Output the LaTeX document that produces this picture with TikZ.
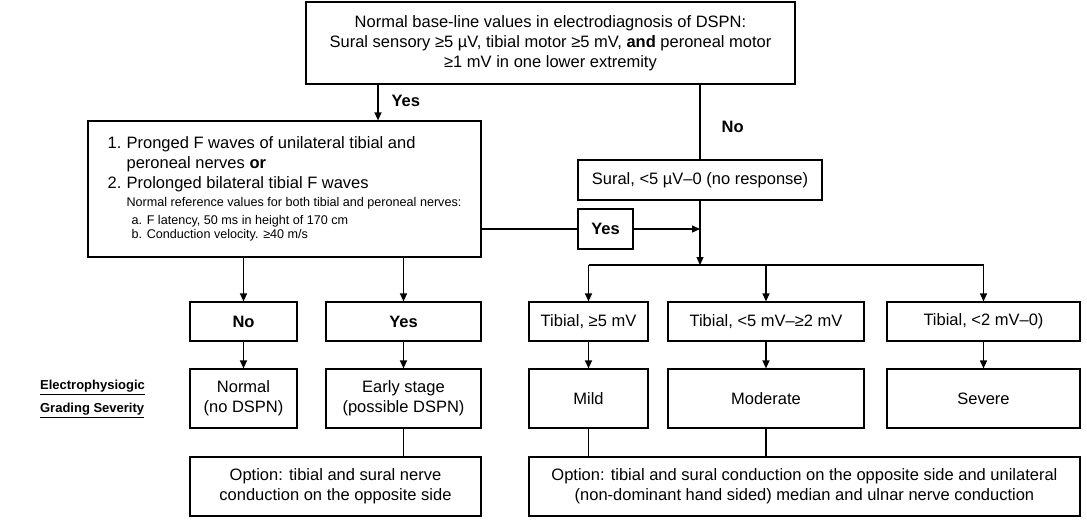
\documentclass[tikz,border=0pt]{standalone}
\usepackage{fontspec}
\setmainfont{Liberation Sans}
\usetikzlibrary{arrows.meta}
\newcommand{\smallfnt}{\fontsize{12.6}{15}\selectfont}
\tikzset{
  box/.style={draw, line width=1.2pt, inner sep=0pt, align=center,
    font=\fontsize{16.5}{20}\selectfont},
  lbl/.style={inner sep=0pt, font=\fontsize{16.5}{20}\selectfont\bfseries},
  >={Triangle[length=8pt,width=7pt]}
}
\begin{document}
\begin{tikzpicture}[x=1pt,y=-1pt,line width=1.2pt]
  \useasboundingbox (0,0) rectangle (1087,522);
  % top of the chart
  \node[box, minimum width=489pt, minimum height=82pt] (base) at (550.5,43)
    {Normal base-line values in electrodiagnosis of DSPN:\\
     Sural sensory ≥5 µV, tibial motor ≥5 mV, \textbf{and} peroneal motor\\
     ≥1 mV in one lower extremity};
  \node[box, align=left, minimum width=393pt, minimum height=136pt] (fwave) at (284.5,189)
    {\makebox[19pt][l]{1.}Pronged F waves of unilateral tibial and\\
     \hspace*{19pt}peroneal nerves \textbf{or}\\
     \makebox[19pt][l]{2.}Prolonged bilateral tibial F waves\\[-2pt]
     {\smallfnt\hspace*{19pt}Normal reference values for both tibial and peroneal nerves:\hspace*{14pt}}\\[-2pt]
     {\smallfnt\hspace*{24pt}a. F latency, 50 ms in height of 170 cm}\\[-6pt]
     {\smallfnt\hspace*{24pt}b. Conduction velocity. ≥40 m/s}};
  \node[box, minimum width=244pt, minimum height=40pt] (sural) at (700,180)
    {Sural, <5 µV–0 (no response)};
  \node[box, minimum width=55pt, minimum height=40pt] (yesmid) at (605.5,229)
    {\textbf{Yes}};
  % second row
  \node[box, minimum width=107pt, minimum height=39pt] (no) at (243.5,321.5) {\textbf{No}};
  \node[box, minimum width=155pt, minimum height=39pt] (yes) at (403.5,321.5) {\textbf{Yes}};
  \node[box, minimum width=119pt, minimum height=39pt] (tiba) at (588.5,321.5) {Tibial, ≥5 mV};
  \node[box, minimum width=196pt, minimum height=39pt] (tibb) at (766,321.5) {Tibial, <5 mV–≥2 mV};
  \node[box, minimum width=193pt, minimum height=39pt] (tibc) at (983.5,321.5) {Tibial, <2 mV–0)};
  % grading row
  \node[box, minimum width=107pt, minimum height=59pt] (normal) at (243.5,398.5) {Normal\\(no DSPN)};
  \node[box, minimum width=155pt, minimum height=59pt] (early) at (403.5,398.5) {Early stage\\(possible DSPN)};
  \node[box, minimum width=119pt, minimum height=59pt] (mild) at (588.5,398.5) {Mild};
  \node[box, minimum width=196pt, minimum height=59pt] (moderate) at (766,398.5) {Moderate};
  \node[box, minimum width=193pt, minimum height=59pt] (severe) at (983.5,398.5) {Severe};
  \node[inner sep=0pt, align=left, font=\fontsize{13}{23}\selectfont\bfseries] (grading) at (92.5,399)
    {\underline{Electrophysiogic}\\\underline{Grading Severity}};
  % options
  \node[box, minimum width=291pt, minimum height=59pt] (opta) at (335.5,486.5)
    {Option: tibial and sural nerve\\conduction on the opposite side};
  \node[box, minimum width=551pt, minimum height=59pt] (optb) at (804.5,486.5)
    {Option: tibial and sural conduction on the opposite side and unilateral\\
     (non-dominant hand sided) median and ulnar nerve conduction};
  \coordinate (ya) at (378,0);
  \coordinate (bar) at (0,265);
  \node[lbl, anchor=west] (yeslbl) at (391,101) {Yes};
  \node[lbl, anchor=west] (nolbl) at (721,127) {No};
  \begin{scope}[->]
    \draw (base.south -| ya) to (fwave.north -| ya);
    \draw (yesmid.east) to (yesmid.east -| sural.south);
    \draw (sural.south) to (sural.south |- bar);
    \draw (tiba.north |- bar) to (tiba.north);
    \draw (tibb.north |- bar) to (tibb.north);
    \draw (tibc.north |- bar) to (tibc.north);
    \draw (fwave.south -| no.north) to (no.north);
    \draw (fwave.south -| yes.north) to (yes.north);
    \draw (no) to (normal);
    \draw (yes) to (early);
    \draw (tiba) to (mild);
    \draw (tibb) to (moderate);
    \draw (tibc) to (severe);
  \end{scope}
  \begin{scope}[-]
    \draw (base.south -| sural.north) to (sural.north);
    \draw (fwave.east |- yesmid.west) to (yesmid.west);
    \draw (tiba.north |- bar) to (tibc.north |- bar);
    \draw (early) to (early.south |- opta.north);
    \draw (mild) to (mild.south |- optb.north);
    \draw (moderate) to (moderate.south |- optb.north);
  \end{scope}
\end{tikzpicture}
\end{document}
